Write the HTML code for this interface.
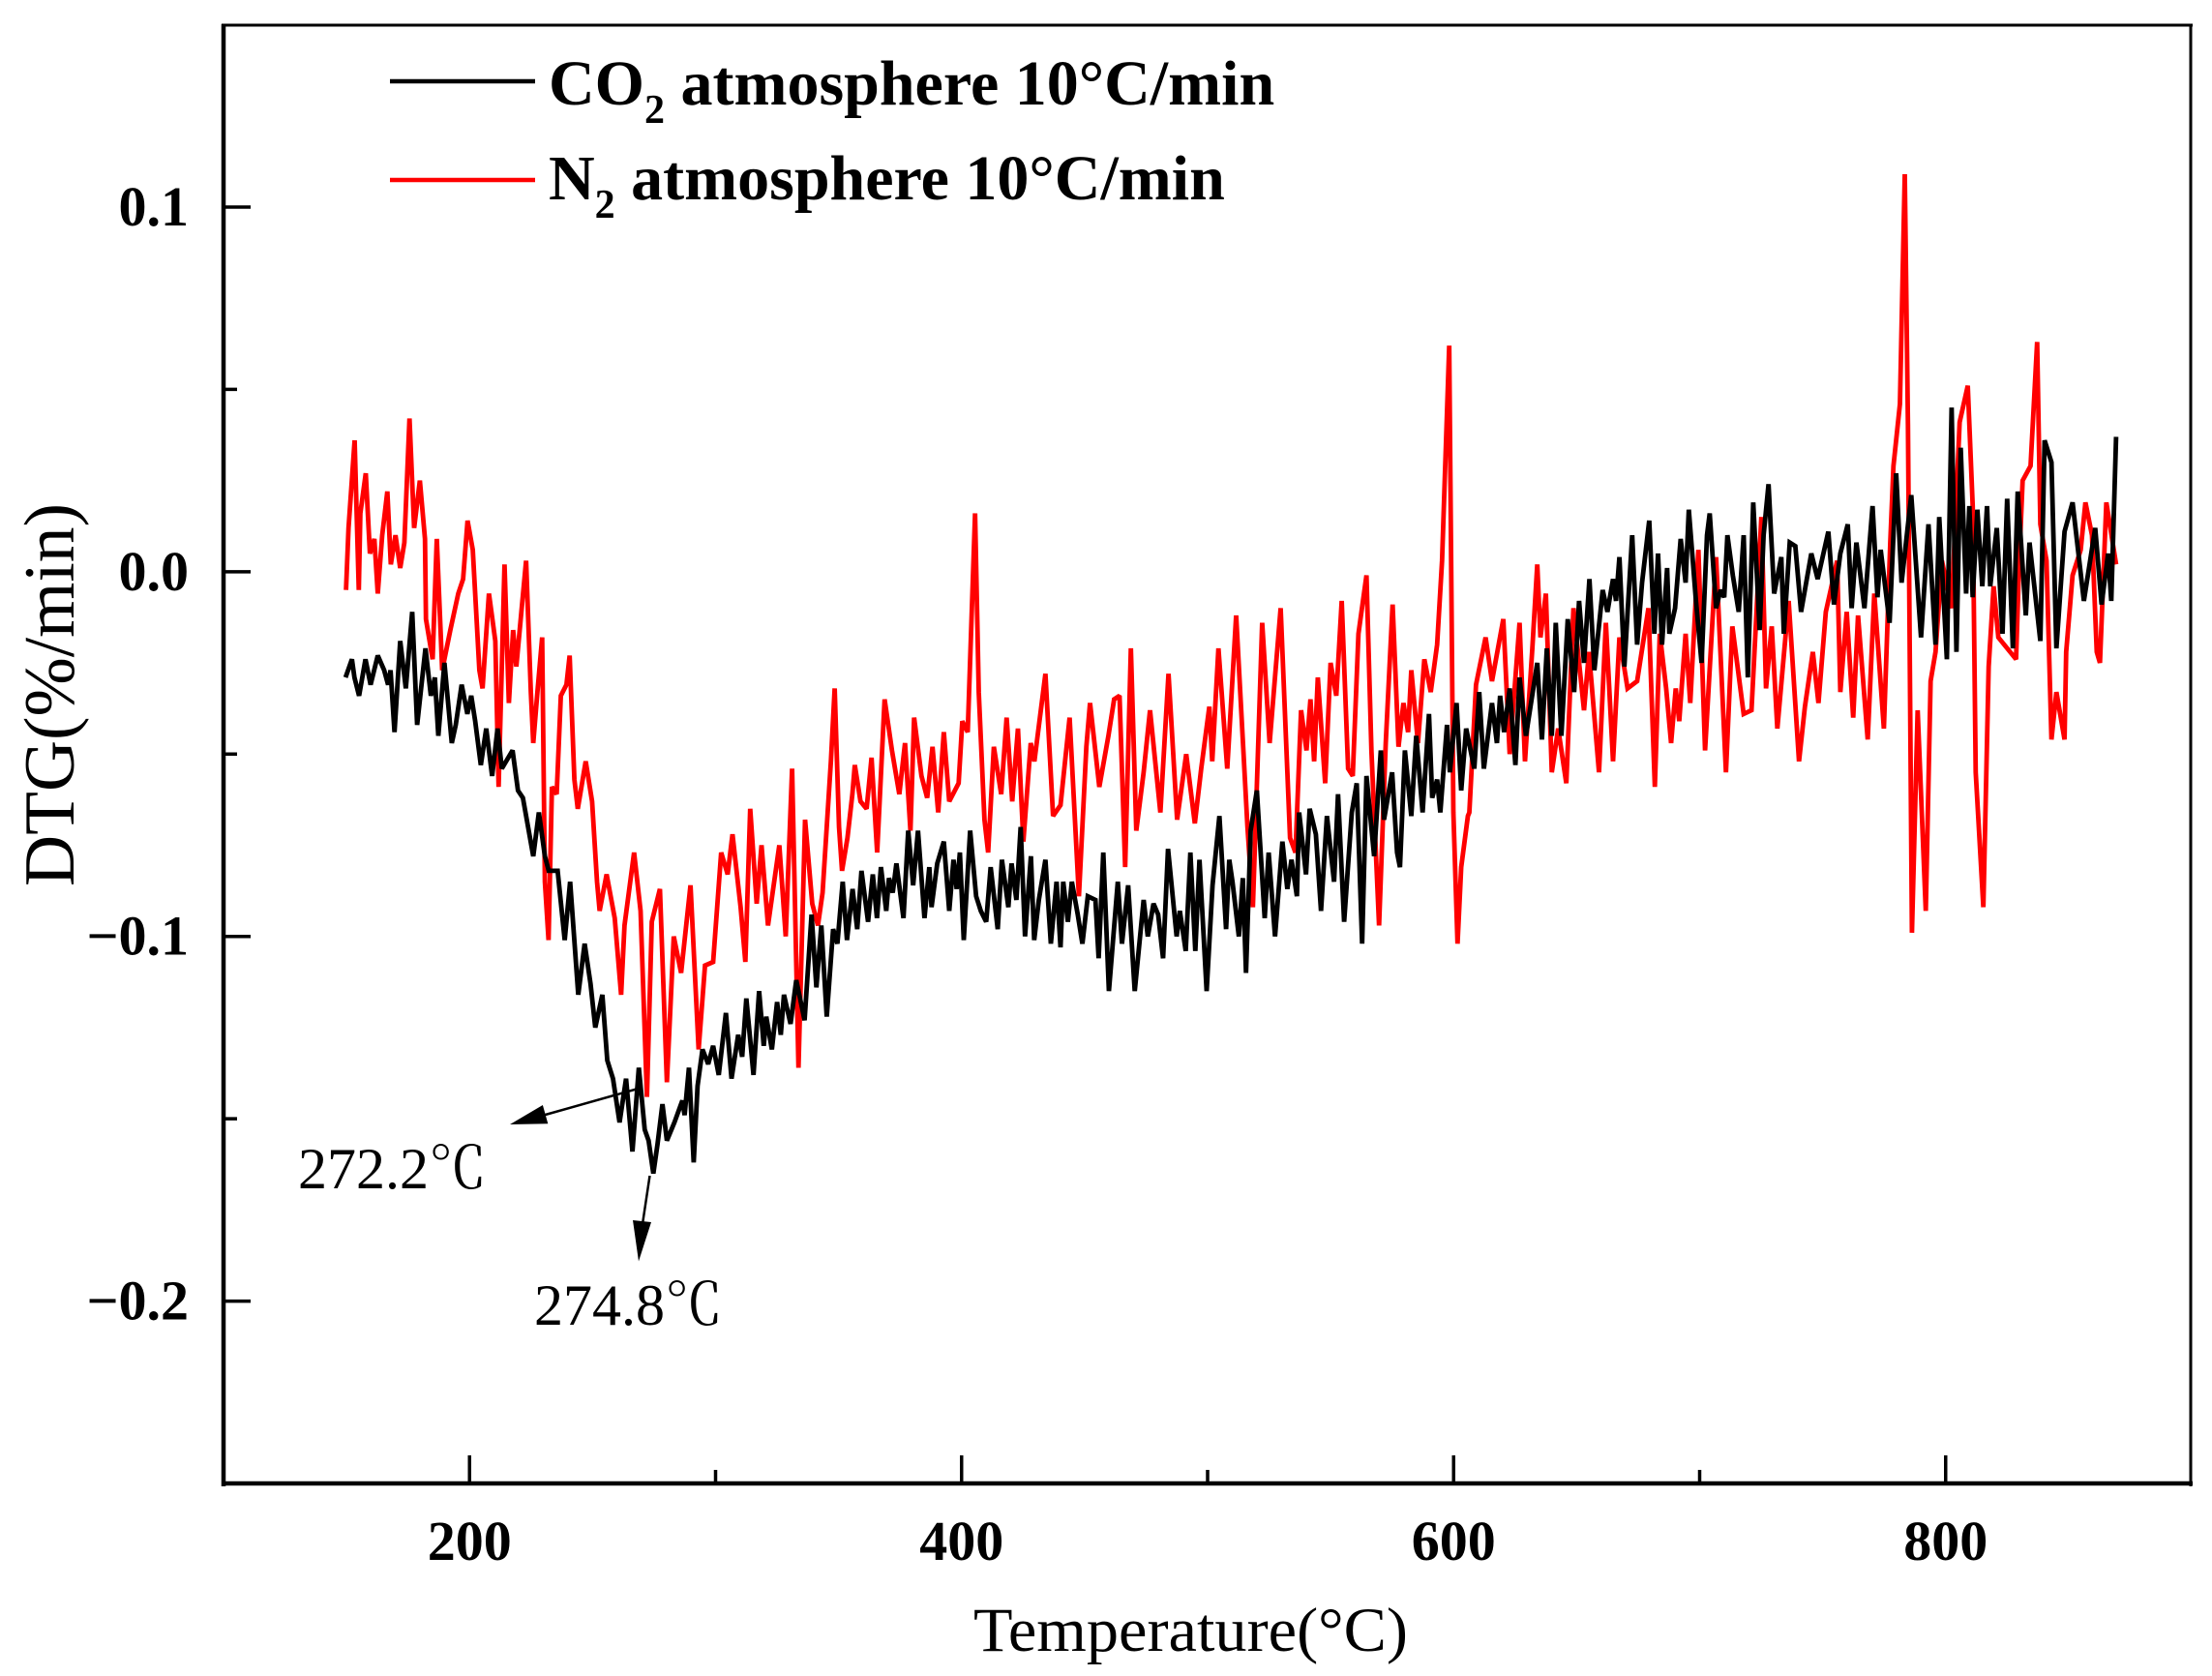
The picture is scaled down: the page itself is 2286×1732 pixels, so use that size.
<!DOCTYPE html>
<html lang="en">
<head>
<meta charset="utf-8">
<title>DTG curves in CO2 and N2 atmospheres</title>
<style>
html,body{margin:0;padding:0;background:#fff;width:2286px;height:1732px;overflow:hidden}
svg{display:block}
text{font-family:"Liberation Serif","Noto Serif CJK SC",serif;fill:#000}
.tick-label{font-size:58px;font-weight:bold}
.legend-text{font-size:66px;font-weight:bold}
.note{font-size:60px}
</style>
</head>
<body>
<svg id="chart" xmlns="http://www.w3.org/2000/svg" width="2286" height="1732" viewBox="0 0 2286 1732">
  <rect x="0" y="0" width="2286" height="1732" fill="#fff"/>
  <g id="series-layer"></g>
  <g id="axes-layer">
    <line x1="229" y1="26" x2="2266" y2="26" stroke="#000" stroke-width="3"/>
    <line x1="2264" y1="25" x2="2264" y2="1536" stroke="#000" stroke-width="3"/>
    <line x1="231" y1="25" x2="231" y2="1536" stroke="#000" stroke-width="4.5"/>
    <line x1="229" y1="1533" x2="2266" y2="1533" stroke="#000" stroke-width="4.5"/>
  </g>
  <g id="ticks-layer"></g>
  <text transform="translate(76,718) rotate(-90)" text-anchor="middle" font-size="74" textLength="396" lengthAdjust="spacingAndGlyphs">DTG(%/min)</text>
  <text x="1006" y="1706" font-size="65" textLength="449" lengthAdjust="spacingAndGlyphs">Temperature(°C)</text>
  <g>
    <line x1="403" y1="84" x2="553" y2="84" stroke="#000" stroke-width="4.5"/>
    <text class="legend-text" x="567" y="108">CO<tspan font-size="42" dy="19">2</tspan><tspan dy="-19"> atmosphere 10°C/min</tspan></text>
    <line x1="403" y1="186" x2="553" y2="186" stroke="#f00" stroke-width="4.5"/>
    <text class="legend-text" x="567" y="206">N<tspan font-size="42" dy="19">2</tspan><tspan dy="-19"> atmosphere 10°C/min</tspan></text>
  </g>
  <g>
    <line x1="663" y1="1124" x2="560" y2="1153" stroke="#000" stroke-width="2.5"/>
    <polygon points="527,1162 560.9,1142 566.3,1161.3" fill="#000"/>
    <text class="note" x="308" y="1228">272.2℃</text>
  </g>
  <g>
    <line x1="671.5" y1="1215" x2="664" y2="1265" stroke="#000" stroke-width="2.5"/>
    <polygon points="660,1303.5 654,1261 673,1263" fill="#000"/>
    <text class="note" x="552" y="1369">274.8℃</text>
  </g>
</svg>
<script>
// Temperature in deg C, DTG in thousandths of %/min.
const n2Temps = [149.8,150.8,153.3,155,155.6,157.8,159.5,161.3,162.7,164.5,166.6,168,169.9,171.8,173.5,175.6,177.5,179.8,181.9,182.3,185,186.7,188.9,192.2,195.4,197.4,199.2,201.3,202.6,204,205.3,207.9,210.5,211.8,214.2,216,217.7,219,223,224.9,225.9,227.6,229.5,230.6,232.1,233.5,235.4,237.1,239.4,240.7,242.6,244,247.2,249.8,251.8,252.9,255.7,259,261.6,263,266.9,269.5,272.1,274.1,277.4,280.2,283,286,289.8,293.1,295.7,299,302.3,304.9,306.9,310.2,312.1,314.1,316.7,318.7,321.3,325.9,328.5,331.1,333.7,336.4,339.3,341.6,343.5,346.9,348.4,350.2,351.4,353.6,355.6,356.6,358.9,361.4,363.4,365.7,368.7,371.7,374.7,377,379.2,380.7,383.7,386,388.2,390.5,392.8,395,398.8,400.3,402.5,405.5,407,409.3,410.8,413.1,416.1,418.3,420.6,422.9,425.1,428.1,429.6,434.1,437.2,440.2,443.9,447.7,450.7,452.2,456,459.7,462,464.2,466.5,468.8,471,474,476.6,480.8,484.1,487.6,491.3,494.8,497.4,500.7,501.9,504.4,508,511.6,516.2,518.4,522.2,525.2,529.7,533.5,535.7,538,540.2,541.8,543.3,544.8,547.8,550,552.3,554.5,557.1,559,561.3,564.6,566.6,569.7,572.4,575.2,577.6,579.6,581.5,582.8,585.5,588.1,590.7,593.3,595.3,598.2,599.9,601.6,603.1,605.8,606.4,609.1,613,615.6,620.2,622.8,626.8,629,632,634,635.3,637.5,639.9,642.5,645.8,648.7,653,655,659.1,661.9,664.8,667.4,670.7,674.6,679.2,681.8,683.8,686.4,688.4,690.3,691.7,694.3,696.2,699.5,702.2,706.7,710.7,713.3,717.9,721.1,725.1,727,729.3,731.6,736.2,740.4,742.8,746,748.3,751.3,755.9,757.2,759.8,762.4,764.4,768.3,771,774.9,777.5,778.8,781.4,783.4,784.7,786.3,788.6,791.9,793.9,795.9,798.5,802.4,805.7,809,811,812.2,815.3,817.5,819.5,821.4,828.6,829.9,831.3,834.5,837.2,838.5,841,843,845,848.3,849,851.6,854.9,856.8,859.5,861.4,862.7,865.3,869.3];
const n2Values = [-5,12,36,-5,16,27,5,9,-6,10,22,2,10,1,8,42,12,25,9,-13,-24,9,-27,-16,-6,-2,14,6,-10,-27,-32,-6,-19,-59,2,-36,-16,-26,3,-33,-47,-33,-18,-85,-101,-59,-61,-34,-31,-23,-57,-65,-52,-63,-85,-93,-83,-95,-116,-97,-77,-93,-144,-96,-87,-140,-100,-110,-86,-131,-108,-107,-77,-83,-72,-92,-107,-65,-91,-75,-97,-75,-100,-54,-136,-68,-91,-97,-88,-52,-32,-70,-82,-73,-61,-53,-63,-65,-51,-77,-35,-49,-61,-47,-71,-40,-56,-62,-48,-66,-44,-63,-58,-41,-44,16,-33,-68,-77,-48,-61,-40,-63,-43,-74,-47,-52,-28,-67,-64,-40,-89,-48,-36,-59,-45,-35,-34,-81,-21,-71,-55,-38,-66,-28,-68,-50,-69,-54,-37,-52,-21,-54,-12,-70,-92,-14,-47,-10,-73,-77,-38,-49,-35,-52,-29,-58,-25,-34,-8,-54,-56,-17,-1,-49,-97,-47,-9,-48,-36,-44,-27,-47,-24,-33,-20,3,62,-66,-102,-81,-67,-66,-31,-18,-30,-13,-50,-14,-52,-21,2,-18,-6,-55,-43,-58,-10,-38,-22,-55,-14,-52,-18,-32,-30,-10,-59,-17,-32,-47,-32,-41,-17,-36,6,-49,4,-55,-15,-39,-38,15,-32,-15,-43,-8,-52,-37,-22,-36,-11,3,-33,-11,-40,-12,-46,-6,-43,8,29,46,109,40,-99,-38,-93,-30,-22,3,-10,41,51,18,-55,-92,-26,-4,-18,-24,3,25,29,63,13,3,-46,-33,-46,-22,-1,6,19,10,-22,-25,19,2];
const co2Temps = [149.6,152.2,153.2,155.1,157.7,159.8,162.7,165.3,166.9,167.9,169.5,171.8,174.1,176.7,178.7,182.1,184.3,185.9,187.3,189.8,192.8,194.4,196.8,199.1,200.7,202.3,204.6,206.8,209.2,211.4,213.1,217.5,219.7,221.7,225.9,228.2,230.6,232.2,235.8,238.7,240.9,244.2,246.8,249.2,251.1,254,256,258.3,261,263.6,266.2,268.8,271.2,272.8,274.7,276.4,278.4,280.2,283.3,286.5,287.4,289.2,291.1,292.7,294.7,297,299,301.3,304.2,306.5,309.2,310.8,312.5,315.4,317.7,319.6,320.6,322.9,325,326.5,327.8,330.5,332.8,336.2,339,341,343,345.2,347.8,349.5,351.7,353.4,355.7,357.6,359.3,362,363.9,365.6,367.2,369.4,370.5,372,373.5,376.4,378.3,380.3,382.3,384.9,386.9,387.8,390.1,392.8,395,396.7,398,399.3,400.9,403.5,405.9,407.8,410,411.8,414.7,416.4,419,420.3,422.3,424,425.8,428.2,429.5,431.4,434.1,436.3,438.6,440.2,441.3,443.2,444.8,447.2,449.1,451.3,454.4,455.7,457.6,459.9,463.5,465.2,467.7,470.4,474,475.7,478,479.9,481.9,483.9,487.4,488.7,491.1,493,495,496.7,499.6,502,504.8,507.5,508.8,510.1,512.7,514.3,515.6,517.5,520,523.2,524.8,527.4,530.4,532.4,534.1,536.3,537.2,540,541.5,544,546.1,548.5,551.4,553,555.5,558.6,560.6,562.8,564.6,567.7,570.4,571.7,575,577,578.2,580.2,582.8,584.8,587.4,590,591.3,593.3,594.6,597.3,598.5,601.2,603.1,605.1,608.4,610.4,612.3,615.6,617.6,618.9,620.5,622.8,625.1,626.8,629.4,634,635.9,637.9,639.9,641.5,643.8,646.4,649,651,653,655.2,657.2,660.6,662.5,664.8,666,667.4,669.4,672.6,674.6,676.6,679.5,681.6,683.1,684.7,686.8,687.7,690,692.3,694.3,695.6,698.5,700.8,703,704.1,706.7,708.5,710,711.3,713.5,715.9,717.9,719.6,721.8,724.4,726,728,730.3,733.2,734.2,736.6,738.9,741.2,745.4,748,752.3,754.6,757.2,760.2,761.8,763.7,767,770.3,772.3,773.6,777.2,779.9,782.1,786,790,793,795.9,797.4,800.5,802.4,804.4,806.1,808.3,809.6,811,812.9,814.9,816.8,818.1,820.8,823.1,825,827.3,829.3,832.6,834.1,838.5,840.2,843,845,848.3,851.6,856.2,860.8,863.4,866,867.3,869.3];
const co2Values = [-29,-24,-29,-34,-24,-31,-23,-27,-31,-27,-44,-19,-32,-11,-42,-21,-34,-29,-45,-25,-47,-42,-31,-39,-34,-41,-53,-43,-56,-43,-54,-49,-60,-62,-78,-66,-78,-82,-82,-101,-85,-116,-102,-113,-125,-116,-134,-139,-151,-139,-159,-136,-153,-156,-165,-157,-146,-156,-151,-145,-149,-136,-162,-141,-131,-135,-130,-138,-121,-139,-127,-133,-117,-138,-115,-130,-122,-131,-118,-127,-116,-124,-112,-123,-94,-114,-97,-122,-98,-102,-85,-101,-87,-98,-82,-96,-83,-95,-81,-93,-84,-88,-80,-95,-71,-86,-71,-95,-81,-92,-80,-74,-93,-79,-87,-77,-101,-71,-89,-93,-96,-81,-98,-79,-92,-80,-90,-70,-100,-78,-101,-90,-79,-102,-85,-103,-85,-96,-85,-94,-102,-89,-90,-106,-77,-115,-85,-102,-86,-115,-90,-100,-91,-94,-106,-76,-100,-93,-104,-77,-104,-79,-115,-86,-67,-98,-79,-85,-100,-84,-110,-71,-60,-95,-77,-100,-74,-87,-79,-89,-66,-83,-65,-72,-93,-67,-85,-61,-96,-66,-58,-102,-56,-78,-49,-68,-55,-77,-81,-49,-67,-45,-66,-39,-62,-57,-66,-42,-55,-36,-60,-43,-54,-33,-54,-36,-47,-34,-44,-32,-53,-29,-45,-25,-46,-21,-45,-14,-45,-13,-33,-8,-25,-2,-27,-5,-11,-2,-8,4,-26,10,-20,-3,14,-17,5,-20,1,-17,-10,9,-3,17,-8,-25,10,16,-10,-5,-7,10,-1,-11,10,-29,19,-16,10,24,-6,4,-17,8,7,-11,5,-2,11,-9,5,13,-10,8,-10,18,-7,6,-14,27,-3,21,-18,13,-20,15,-24,45,-22,34,-6,18,-7,17,-4,18,-4,12,-17,20,-21,22,-12,8,-19,36,30,-21,11,19,-8,12,-9,5,-8,37];
const xMajorTicks = [200,400,600,800];
const xMinorTicks = [300,500,700];
const xTickLabels = ["200","400","600","800"];
const yMajorTicks = [0.1,0,-0.1,-0.2];
const yMinorTicks = [0.05,-0.05,-0.15];
const yTickLabels = ["0.1","0.0","\u22120.1","\u22120.2"];

const SVG_NS = "http://www.w3.org/2000/svg";
const xDomain = [100,900], xRange = [231,2265];
const yDomain = [-0.25,0.15], yRange = [1533,25.5];
function xScale(t){ return xRange[0] + (t-xDomain[0])/(xDomain[1]-xDomain[0])*(xRange[1]-xRange[0]); }
function yScale(v){ return yRange[0] + (v-yDomain[0])/(yDomain[1]-yDomain[0])*(yRange[1]-yRange[0]); }

const seriesLayer = document.getElementById("series-layer");
const ticksLayer = document.getElementById("ticks-layer");

function curvePoints(temps, values){
  return temps.map(function(t,i){ return xScale(t).toFixed(1)+","+yScale(values[i]/1000).toFixed(1); }).join(" ");
}
function makeCurve(temps, values, color){
  const el = document.createElementNS(SVG_NS,"polyline");
  el.setAttribute("points", curvePoints(temps, values));
  el.setAttribute("fill","none");
  el.setAttribute("stroke",color);
  el.setAttribute("stroke-width","4.8");
  el.setAttribute("stroke-linejoin","miter");
  el.setAttribute("stroke-miterlimit","2");
  seriesLayer.appendChild(el);
  return el;
}
const n2Curve = makeCurve(n2Temps, n2Values, "#ff0000");


const co2Curve = makeCurve(co2Temps, co2Values, "#000000");



function makeLine(x1,y1,x2,y2,w){
  const el = document.createElementNS(SVG_NS,"line");
  el.setAttribute("x1",x1); el.setAttribute("y1",y1);
  el.setAttribute("x2",x2); el.setAttribute("y2",y2);
  el.setAttribute("stroke","#000"); el.setAttribute("stroke-width",w);
  ticksLayer.appendChild(el);
  return el;
}
function makeLabel(x,y,str,anchor){
  const el = document.createElementNS(SVG_NS,"text");
  el.setAttribute("x",x); el.setAttribute("y",y);
  el.setAttribute("text-anchor",anchor);
  el.setAttribute("class","tick-label");
  el.textContent = str;
  ticksLayer.appendChild(el);
  return el;
}
xMajorTicks.forEach(function(t,i){
  const tick = makeLine(xScale(t),1504,xScale(t),1533,3.5);
  
  
  const label = makeLabel(xScale(t),1612,xTickLabels[i],"middle");
  
  
});
xMinorTicks.forEach(function(t){
  const tick = makeLine(xScale(t),1519,xScale(t),1533,3.5);
  
  
});
yMajorTicks.forEach(function(v,i){
  const tick = makeLine(231,yScale(v),259,yScale(v),3.5);
  
  
  const label = makeLabel(195,yScale(v)+19,yTickLabels[i],"end");
  
  
});
yMinorTicks.forEach(function(v){
  const tick = makeLine(231,yScale(v),245,yScale(v),3.5);
  
  
});
</script>
</body>
</html>
